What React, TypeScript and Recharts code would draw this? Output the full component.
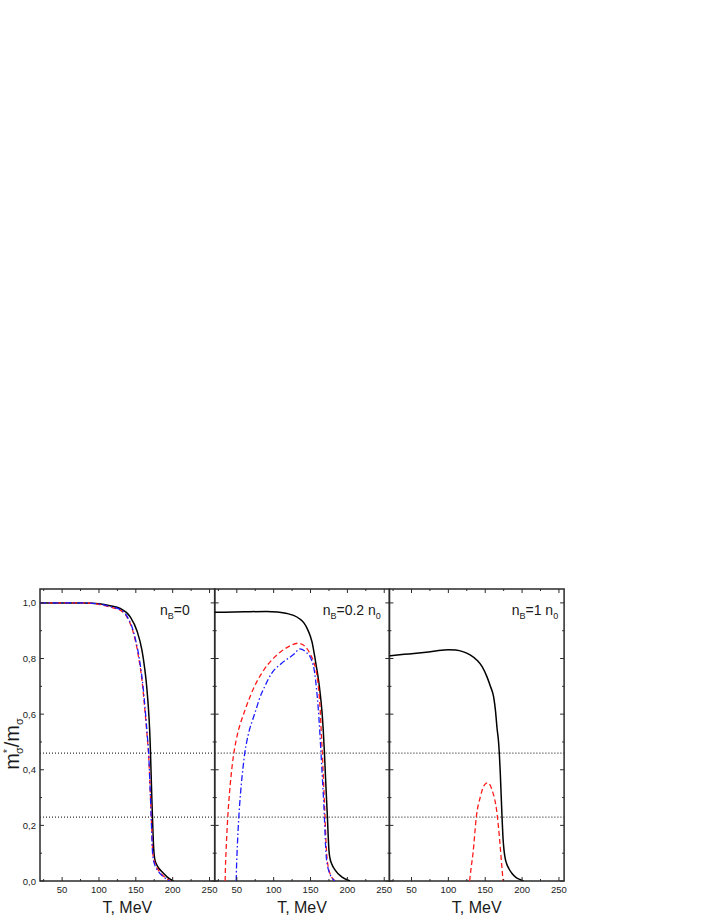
import React from "react";
import { LineChart, Line, XAxis, YAxis, ReferenceLine, ReferenceArea } from "recharts";

// T (MeV) vs m*_sigma / m_sigma
const P1_SOLID: [number, number][] = [
  [20, 1.0], [80, 1.0], [100, 0.997], [115, 0.99], [128.8, 0.98], [142.4, 0.95],
  [151.5, 0.9], [158.3, 0.83], [162, 0.765], [164, 0.72], [166, 0.66], [167.6, 0.6],
  [168.8, 0.54], [169.8, 0.47], [170.8, 0.38], [171.8, 0.29], [172.7, 0.22],
  [173.5, 0.16], [174.4, 0.11], [175.6, 0.08], [178, 0.06], [181.5, 0.045],
  [185.5, 0.033], [192.3, 0.015], [201, 0],
];
const P1_DASH: [number, number][] = [
  [20, 1.0], [80, 1.0], [100, 0.995], [115, 0.985], [128.8, 0.974], [137.9, 0.95],
  [146.9, 0.89], [153.7, 0.806], [158.3, 0.722], [161.9, 0.626], [165.5, 0.515],
  [167.2, 0.46], [169, 0.36], [171, 0.23], [172, 0.16], [172.8, 0.11], [174.2, 0.08],
  [176.4, 0.062], [182.2, 0.033], [188.6, 0.015], [196.7, 0],
];
const P1_DASHDOT: [number, number][] = [
  [20, 1.0], [80, 1.0], [100, 0.996], [115, 0.987], [128.8, 0.976], [138.5, 0.95],
  [147.5, 0.89], [154.3, 0.806], [158.8, 0.722], [162.4, 0.626], [165.8, 0.515],
  [167.4, 0.46], [169, 0.36], [170.8, 0.23], [171.8, 0.16], [172.5, 0.11],
  [174, 0.075], [175.5, 0.06], [181, 0.033], [187.5, 0.015], [196, 0],
];

const P2_SOLID: [number, number][] = [
  [20, 0.966], [60, 0.968], [90, 0.969], [105, 0.967], [118, 0.962], [127, 0.955],
  [135, 0.943], [141, 0.928], [146, 0.905], [150, 0.878], [152, 0.86], [155.5, 0.81],
  [158, 0.77], [161, 0.72], [163.5, 0.665], [165.5, 0.61], [167.2, 0.545],
  [168.7, 0.47], [170.2, 0.38], [171.6, 0.3], [172.9, 0.23], [174, 0.16],
  [175, 0.11], [176.5, 0.08], [178.5, 0.063], [183.4, 0.039], [192.3, 0.015],
  [203.6, 0],
];
const P2_DASH: [number, number][] = [
  [34.2, 0], [34.6, 0.05], [35.3, 0.1], [36.3, 0.16], [37.5, 0.22], [39, 0.28],
  [41, 0.345], [43.5, 0.41], [46, 0.46], [49, 0.505], [52.5, 0.545], [56.3, 0.578],
  [60.5, 0.61], [65.3, 0.645], [74, 0.7], [83.5, 0.746], [101.6, 0.806],
  [119.7, 0.842], [133.3, 0.855], [142, 0.845], [149.2, 0.818], [154, 0.79],
  [158.3, 0.746], [161, 0.69], [162.9, 0.626], [164.5, 0.54], [166, 0.46],
  [167.8, 0.35], [169.7, 0.23], [171, 0.14], [172, 0.095], [174, 0.05],
  [176.4, 0.027], [183.4, 0],
];
const P2_DASHDOT: [number, number][] = [
  [49.2, 0], [49.6, 0.05], [50.3, 0.1], [51.3, 0.16], [52.5, 0.22], [54, 0.28],
  [56, 0.345], [58.3, 0.405], [60.8, 0.46], [63.8, 0.505], [67.3, 0.545],
  [71.5, 0.58], [76.5, 0.62], [80, 0.65], [88, 0.7], [96.8, 0.745], [110.4, 0.782],
  [128.5, 0.818], [135.3, 0.835], [143, 0.825], [151.5, 0.794], [155.5, 0.75],
  [158.3, 0.686], [160.5, 0.62], [162.5, 0.54], [164.2, 0.46], [166.5, 0.35],
  [168.8, 0.23], [170, 0.15], [171, 0.1], [173, 0.055], [175, 0.035], [183, 0],
];

const P3_SOLID: [number, number][] = [
  [20, 0.81], [40, 0.815], [60, 0.82], [80, 0.826], [100, 0.832], [110, 0.831],
  [120.6, 0.824], [130, 0.812], [138.8, 0.794], [146, 0.77], [152.4, 0.734],
  [157, 0.7], [161.4, 0.662], [164, 0.61], [166, 0.55], [168.1, 0.5],
  [169.2, 0.455], [170.4, 0.39], [171.6, 0.31], [172.8, 0.23], [174, 0.16],
  [175.5, 0.11], [177, 0.082], [178.7, 0.065], [182, 0.045], [186.4, 0.027],
  [192, 0.012], [197.7, 0.005], [202, 0],
];
const P3_DASH: [number, number][] = [
  [128.8, 0], [131, 0.05], [133.4, 0.099], [137.9, 0.23], [143.4, 0.303],
  [148.8, 0.345], [153.3, 0.353], [159.3, 0.327], [166, 0.243], [169.6, 0.147],
  [172, 0.07], [174.2, 0],
];

const LEVELS = [0.46, 0.23];
const X_TICKS = [25, 50, 75, 100, 125, 150, 175, 200, 225, 250];
const Y_TICKS = [0, 0.1, 0.2, 0.3, 0.4, 0.5, 0.6, 0.7, 0.8, 0.9, 1.0];
const PANEL_TITLES = [
  { base: "0", unit: "" },
  { base: "0.2 n", unit: "0" },
  { base: "1 n", unit: "0" },
];

const W = 708;
const H = 917;
const PLOT_TOP = 589;
const PLOT_BOTTOM = 881;
const PANEL_W = 174.7;
const PANEL_LEFTS = [40, 214.7, 389.4];
const AXIS_W = 30;
const FRAME = "#2a2a2a";
const INK = "#1a1a1a";
const FONT = "'Liberation Sans', Arial, sans-serif";

const toRows = (pts: [number, number][]) => pts.map(([T, m]) => ({ T, m }));

const XTick = (props: any) => {
  const { x, payload } = props;
  const v = payload.value;
  const major = v % 50 === 0;
  const len = major ? 4 : 2;
  return (
    <g>
      <line x1={x} x2={x} y1={PLOT_BOTTOM} y2={PLOT_BOTTOM - len} stroke={FRAME} strokeWidth={1} />
      <line x1={x} x2={x} y1={PLOT_TOP} y2={PLOT_TOP + len} stroke={FRAME} strokeWidth={1} />
      {major && (
        <text x={x} y={PLOT_BOTTOM + 12} textAnchor="middle" fontSize={9.5} fontFamily={FONT} fill={INK}>
          {v}
        </text>
      )}
    </g>
  );
};

const makeYTick = (left: number, labels: boolean) => (props: any) => {
  const { y, payload } = props;
  const v = payload.value;
  const major = Math.round(v * 10) % 2 === 0;
  const len = major ? 4 : 2;
  return (
    <g>
      <line x1={left} x2={left + len} y1={y} y2={y} stroke={FRAME} strokeWidth={1} />
      <line x1={left + PANEL_W} x2={left + PANEL_W - len} y1={y} y2={y} stroke={FRAME} strokeWidth={1} />
      {labels && major && (
        <text x={left - 4} y={y + 3.5} textAnchor="end" fontSize={9.5} fontFamily={FONT} fill={INK}>
          {v.toFixed(1).replace(".", ",")}
        </text>
      )}
    </g>
  );
};

const LINE_STYLE: Record<string, any> = {
  solid: { stroke: "#000", strokeWidth: 1.5 },
  dash: { stroke: "#ff1a1a", strokeWidth: 1.3, strokeDasharray: "5 3" },
  dashdot: { stroke: "#1a1aff", strokeWidth: 1.3, strokeDasharray: "6 2.5 1.5 2.5" },
};

const Panel = ({ index, series }: { index: number; series: { pts: [number, number][]; kind: string }[] }) => {
  const left = PANEL_LEFTS[index];
  return (
    <div style={{ position: "absolute", left: 0, top: 0 }}>
      <LineChart
        width={W}
        height={H}
        margin={{
          top: PLOT_TOP,
          bottom: H - PLOT_BOTTOM - AXIS_W,
          left: left - AXIS_W,
          right: W - left - PANEL_W,
        }}
      >
        <XAxis
          dataKey="T"
          type="number"
          domain={[20, 257]}
          allowDataOverflow
          ticks={X_TICKS}
          interval={0}
          height={AXIS_W}
          tickLine={false}
          axisLine={false}
          tick={XTick}
        />
        <YAxis
          type="number"
          domain={[0, 1.05]}
          allowDataOverflow
          ticks={Y_TICKS}
          interval={0}
          width={AXIS_W}
          tickLine={false}
          axisLine={false}
          tick={makeYTick(left, index === 0)}
        />
        {LEVELS.map((lv) => (
          <ReferenceLine key={lv} y={lv} stroke="#333" strokeWidth={1.2} strokeDasharray="1 2" />
        ))}
        {series.map((s, i) => (
          <Line
            key={i}
            data={toRows(s.pts)}
            dataKey="m"
            type="monotone"
            dot={false}
            activeDot={false}
            isAnimationActive={false}
            {...LINE_STYLE[s.kind]}
          />
        ))}
        <ReferenceArea x1={20} x2={257} y1={0} y2={1.05} fill="none" stroke={FRAME} strokeWidth={1.5} />
      </LineChart>
    </div>
  );
};

export default function App() {
  const titleX = [160, 322.7, 511.7];
  return (
    <div style={{ position: "absolute", left: 0, top: 0, width: W, height: H, background: "#fff" }}>
      <Panel
        index={0}
        series={[
          { pts: P1_SOLID, kind: "solid" },
          { pts: P1_DASH, kind: "dash" },
          { pts: P1_DASHDOT, kind: "dashdot" },
        ]}
      />
      <Panel
        index={1}
        series={[
          { pts: P2_SOLID, kind: "solid" },
          { pts: P2_DASH, kind: "dash" },
          { pts: P2_DASHDOT, kind: "dashdot" },
        ]}
      />
      <Panel
        index={2}
        series={[
          { pts: P3_SOLID, kind: "solid" },
          { pts: P3_DASH, kind: "dash" },
        ]}
      />
      <svg
        width={W}
        height={H}
        style={{ position: "absolute", left: 0, top: 0, pointerEvents: "none" }}
        fontFamily={FONT}
        fill={INK}
      >
        <text transform="translate(18.5,744) rotate(-90)" textAnchor="middle" fontSize={20}>
          m
          <tspan dy={-8} fontSize={10}>*</tspan>
          <tspan dx={-5} dy={12} fontSize={11}>σ</tspan>
          <tspan dy={-4}>/m</tspan>
          <tspan dy={4} fontSize={11}>σ</tspan>
        </text>
        {PANEL_LEFTS.map((l, i) => (
          <text key={`ax${i}`} x={l + PANEL_W / 2} y={912.5} textAnchor="middle" fontSize={16}>
            T, MeV
          </text>
        ))}
        {PANEL_TITLES.map((t, i) => (
          <text key={`t${i}`} x={titleX[i]} y={615} fontSize={14}>
            n
            <tspan dy={4} fontSize={9}>B</tspan>
            <tspan dy={-4}>={t.base}</tspan>
            {t.unit && (
              <tspan dy={4} fontSize={9}>
                {t.unit}
              </tspan>
            )}
          </text>
        ))}
      </svg>
    </div>
  );
}
